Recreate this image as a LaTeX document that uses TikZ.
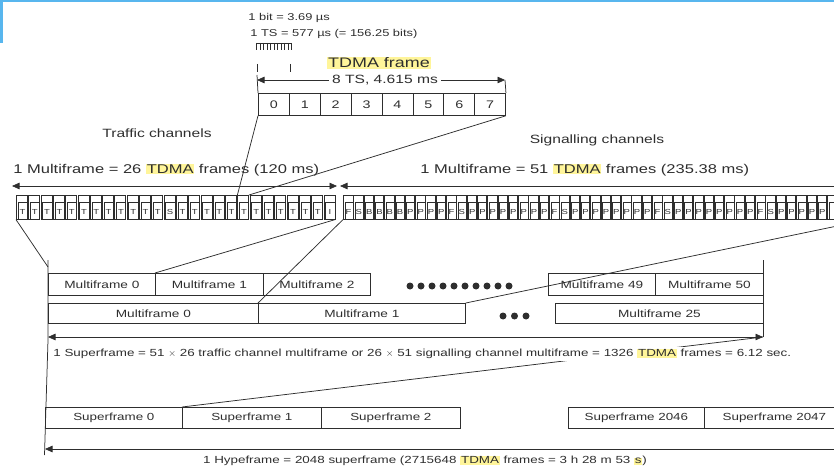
\documentclass[tikz,border=0pt]{standalone}
\usepackage{fontspec}
\setmainfont{Liberation Sans}[FakeStretch=1.3]
\usetikzlibrary{arrows.meta}
\definecolor{ink}{HTML}{2E2E2E}
\definecolor{hly}{HTML}{FFF59A}
\definecolor{edgeblue}{HTML}{58B6EE}
\newcommand\hlt[1]{{\setlength{\fboxsep}{0.8pt}\colorbox{hly}{#1}}}
\newcommand\fsBig{\fontsize{12.7}{15}\selectfont}
\newcommand\fsTitle{\fontsize{13.8}{16}\selectfont}
\newcommand\fsTS{\fontsize{12}{14}\selectfont}
\newcommand\fsSmall{\fontsize{9.9}{12}\selectfont}
\newcommand\fsBox{\fontsize{10.5}{12}\selectfont}
\newcommand\fsSF{\fontsize{10.3}{12}\selectfont}
\newcommand\fsLong{\fontsize{10.3}{12}\selectfont}
\newcommand\fsCell{\fontsize{7.3}{8}\selectfont}
\newcommand\fsNum{\fontsize{11}{13}\selectfont}
\begin{document}
\begin{tikzpicture}[x=1pt,y=-1pt,line width=0.75pt,color=ink,
  txt/.style={inner sep=0pt,text=ink},
  fbox/.style={draw,inner sep=0pt,anchor=north west,text=ink},
  tcell/.style={draw,inner sep=0pt,anchor=north west,minimum width=11pt,minimum height=24pt,line width=0.6pt},
  scell/.style={draw,inner sep=0pt,anchor=north west,minimum width=9.5pt,minimum height=24pt,line width=0.6pt},
  darr/.style={{Triangle[length=7.5pt,width=6.5pt]}-{Triangle[length=7.5pt,width=6.5pt]}},
  larr/.style={{Triangle[length=7.5pt,width=6.5pt]}-}]
\useasboundingbox (0,0) rectangle (834,468);
\begin{scope}
\clip (0,0) rectangle (834,468);
% blue frame edge
\fill[edgeblue] (0,0) rectangle (834,2.5);
\fill[edgeblue] (0,0) rectangle (3,43);

% top: bit and time slot
\node[txt,anchor=west] (bit) at (248,18) {\fsSmall 1 bit = 3.69 µs};
\node[txt,anchor=west] (ts) at (250,34) {\fsSmall 1 TS = 577 µs (= 156.25 bits)};
\draw[line width=0.6pt] (256,43) -- (292,43);
\foreach \k in {0,...,10} \draw[line width=0.5pt] ({256.5+\k*3.5},43) -- ({256.5+\k*3.5},50);
\draw[line width=0.6pt] (257,64) -- (257,72);
\draw[line width=0.6pt] (290,64) -- (290,72);
\node[txt] (tf) at (379,63) {\fsTitle\hlt{TDMA frame}};

% TDMA frame slots
\foreach \n in {0,...,7}
  \node[fbox,minimum width=30.9pt,minimum height=22pt,font=\fsNum] (b\n) at ({258+\n*30.9},93) {\n};
\coordinate (aL) at (257,80);
\coordinate (aR) at (505,80);
\draw[darr] (aL) -- (aR);
\node[txt,fill=white,inner xsep=3pt] (lbl8) at (385,80) {\fsTS 8 TS, 4.615 ms};
\draw (257,75) -- (b0.north west);
\draw (aR) -- (b7.north east);

% channel titles
\node[txt] (trt) at (157,133) {\fsTS Traffic channels};
\node[txt] (sgt) at (597,140) {\fsTS Signalling channels};
\node[txt,anchor=west] (trm) at (13,170) {\fsBig 1 Multiframe = 26 \hlt{TDMA} frames (120 ms)};
\node[txt,anchor=west] (sgm) at (420,170) {\fsBig 1 Multiframe = 51 \hlt{TDMA} frames (235.38 ms)};

% traffic multiframe
\foreach \l [count=\i from 0] in {T,T,T,T,T,T,T,T,T,T,T,T,S,T,T,T,T,T,T,T,T,T,T,T,T,I} {
  \node[tcell] (t\i) at ({16+\i*12.3},195) {};
  \draw[line width=0.5pt] ({18+\i*12.3},219) -- ({18+\i*12.3},202) -- ({27+\i*12.3},202);
  \node[txt] at ({22.5+\i*12.3},211.5) {\fsCell \l};
}
\coordinate (trL) at (12,186);
\coordinate (trR) at (337,186);
\draw[darr] (trL) -- (trR);

% signalling multiframe
\foreach \l [count=\i from 0] in {F,S,B,B,B,B,P,P,P,P,F,S,P,P,P,P,P,P,P,P,F,S,P,P,P,P,P,P,P,P,F,S,P,P,P,P,P,P,P,P,F,S,P,P,P,P,P,P,P,P,I} {
  \node[scell] (g\i) at ({343+\i*10.3},195) {};
  \draw[line width=0.5pt] ({344.8+\i*10.3},219) -- ({344.8+\i*10.3},202) -- ({352.5+\i*10.3},202);
  \ifnum\i<47 \node[txt] at ({348.6+\i*10.3},211.5) {\fsCell \l};\fi
}
\coordinate (sgL) at (340,186);
\coordinate (sgR) at (834,186);
\draw[larr] (sgL) -- (sgR);

% links TDMA frame -> traffic frame
\draw (b0.south west) -- (t18.north west);
\draw (b7.south east) -- (t18.north east);

% multiframes
\node[fbox,minimum width=107pt,minimum height=22pt,font=\fsBox] (m0) at (48,273) {Multiframe 0};
\node[fbox,minimum width=108pt,minimum height=22pt,font=\fsBox] (m1) at (155,273) {Multiframe 1};
\node[fbox,minimum width=107pt,minimum height=22pt,font=\fsBox] (m2) at (263,273) {Multiframe 2};
\node[fbox,minimum width=107pt,minimum height=22pt,font=\fsBox] (m49) at (548,273) {Multiframe 49};
\node[fbox,minimum width=108pt,minimum height=22pt,font=\fsBox] (m50) at (655,273) {Multiframe 50};
\node[fbox,minimum width=210pt,minimum height=20pt,font=\fsBox] (s0) at (48,303) {Multiframe 0};
\node[fbox,minimum width=207pt,minimum height=20pt,font=\fsBox] (s1) at (258,303) {Multiframe 1};
\node[fbox,minimum width=208pt,minimum height=20pt,font=\fsBox] (s25) at (555,303) {Multiframe 25};
\foreach \k in {0,...,9} \fill ({410+\k*11},286) circle (3.5);
\foreach \k in {0,...,2} \fill ({503+\k*11.5},316) circle (3.5);

\coordinate (L1) at (48,267);
\draw (t0.south west) -- (L1);
\draw (t25.south east) -- (m1.north west);
\draw (g0.south west) -- (s1.north west);
\draw (g50.south east) -- (s1.north east);

% superframe
\coordinate (sfL) at (48,337);
\coordinate (sfR) at (763,337);
\draw (48,260) -- (48,340) -- (44.5,455);
\draw (763,260) -- (sfR);
\draw[darr] (sfL) -- (sfR);

\node[fbox,minimum width=137pt,minimum height=21pt,font=\fsSF] (f0) at (45,407) {Superframe 0};
\node[fbox,minimum width=139pt,minimum height=21pt,font=\fsSF] (f1) at (182,407) {Superframe 1};
\node[fbox,minimum width=139pt,minimum height=21pt,font=\fsSF] (f2) at (321,407) {Superframe 2};
\node[fbox,minimum width=136pt,minimum height=21pt,font=\fsSF] (f2046) at (568,407) {Superframe 2046};
\node[fbox,minimum width=140pt,minimum height=21pt,font=\fsSF] (f2047) at (704,407) {Superframe 2047};
\draw (sfR) -- (f1.north west);
\node[txt,anchor=west,fill=white,inner ysep=2pt] (sft) at (53,354) {\fsLong 1 Superframe = 51 $\times$ 26 traffic channel multiframe or 26 $\times$ 51 signalling channel multiframe = 1326 \hlt{TDMA} frames = 6.12 sec.};

% hyperframe
\coordinate (hfL) at (45,449);
\coordinate (hfR) at (834,449);
\draw[larr] (hfL) -- (hfR);
\node[txt] (hft) at (425,461) {\fsLong 1 Hypeframe = 2048 superframe (2715648 \hlt{TDMA} frames = 3 h 28 m 53 \hlt{s})};
\end{scope}
\end{tikzpicture}
\end{document}
